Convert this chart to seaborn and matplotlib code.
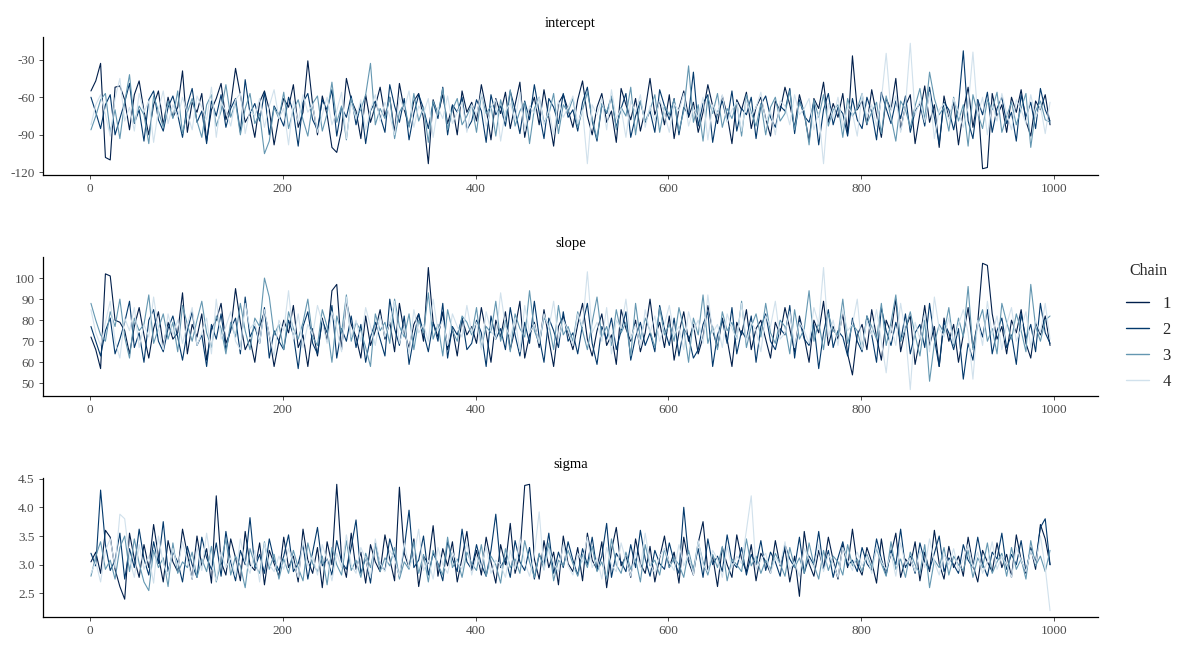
import numpy as np
import pandas as pd
import matplotlib
matplotlib.use("Agg")
import matplotlib.pyplot as plt
import seaborn as sns
from matplotlib.ticker import FormatStrFormatter

# ---------------- data (every 5th draw) ----------------
params = ["intercept", "slope", "sigma"]
chains = ["1", "2", "3", "4"]
chain_colors = ["#011f4b", "#03396c", "#6497b1", "#d1e1ec"]
iterations = np.arange(1, 1001, 5)
intercept_ticks = [-120, -90, -60, -30]
slope_ticks = [50, 60, 70, 80, 90, 100]
sigma_ticks = [2.5, 3.0, 3.5, 4.0, 4.5]
iteration_ticks = [0, 200, 400, 600, 800, 1000]

intercept_c1 = [
    -55, -47, -33, -108, -110, -52, -51, -62, -86, -58, -47, -71, -90, -66, -55, -82, -60, -76, -68, -39,
    -88, -64, -72, -57, -95, -70, -61, -49, -78, -66, -37, -58, -80, -73, -92, -64, -55, -70, -98, -76,
    -61, -68, -50, -84, -72, -31, -66, -90, -59, -74, -100, -104, -86, -45, -62, -71, -93, -58, -80, -67,
    -52, -75, -60, -88, -49, -70, -83, -63, -57, -77, -113, -62, -74, -58, -81, -67, -90, -55, -72, -64,
    -79, -50, -69, -94, -61, -73, -56, -85, -66, -48, -92, -71, -60, -82, -54, -76, -99, -65, -58, -70,
    -84, -62, -47, -75, -90, -68, -57, -80, -71, -96, -53, -66, -78, -61, -87, -70, -45, -74, -63, -82,
    -58, -93, -69, -55, -76, -64, -88, -72, -50, -67, -81, -59, -74, -97, -62, -70, -56, -85, -68, -60,
    -77, -91, -63, -71, -52, -66, -84, -58, -73, -95, -61, -69, -48, -80, -65, -76, -57, -89, -27, -70,
    -63, -82, -54, -74, -92, -61, -70, -45, -86, -67, -58, -97, -73, -51, -80, -66, -100, -59, -77, -64,
    -98, -71, -52, -84, -62, -117, -116, -57, -75, -66, -88, -60, -72, -54, -79, -91, -63, -70, -58, -82]
intercept_c2 = [
    -60, -72, -85, -66, -58, -90, -77, -64, -49, -81, -70, -95, -62, -55, -78, -87, -68, -59, -74, -92,
    -66, -53, -80, -71, -97, -63, -75, -58, -84, -69, -61, -88, -46, -73, -65, -79, -56, -90, -67, -74,
    -83, -60, -72, -99, -64, -57, -78, -86, -62, -70, -54, -91, -68, -76, -59, -82, -65, -97, -71, -63,
    -75, -88, -50, -67, -80, -61, -94, -73, -58, -69, -85, -64, -77, -52, -90, -66, -72, -60, -86, -79,
    -62, -71, -96, -58, -74, -67, -83, -55, -70, -89, -63, -78, -50, -72, -93, -61, -68, -81, -57, -76,
    -70, -87, -64, -52, -79, -95, -66, -73, -60, -84, -69, -57, -92, -75, -63, -80, -71, -88, -54, -67,
    -78, -61, -90, -68, -74, -40, -83, -65, -58, -96, -72, -63, -79, -55, -87, -69, -74, -60, -93, -66,
    -59, -76, -84, -67, -71, -53, -89, -62, -75, -80, -64, -98, -70, -57, -82, -68, -73, -91, -61, -78,
    -85, -60, -72, -94, -56, -69, -81, -63, -77, -59, -88, -71, -65, -83, -52, -76, -97, -64, -70, -86,
    -67, -23, -79, -93, -62, -74, -56, -88, -69, -60, -81, -72, -95, -58, -76, -64, -85, -53, -70, -79]
intercept_c3 = [
    -86, -75, -62, -57, -88, -70, -93, -64, -42, -80, -67, -74, -97, -59, -71, -84, -63, -77, -55, -89,
    -72, -61, -79, -92, -66, -58, -83, -71, -50, -76, -64, -90, -69, -57, -81, -73, -105, -95, -68, -77,
    -56, -85, -70, -62, -78, -91, -65, -59, -87, -73, -48, -80, -67, -94, -61, -75, -70, -58, -33, -82,
    -69, -77, -60, -93, -72, -65, -84, -57, -79, -68, -96, -63, -74, -53, -86, -70, -61, -82, -75, -66,
    -88, -58, -73, -67, -91, -62, -78, -54, -83, -71, -64, -97, -69, -60, -80, -74, -57, -89, -66, -72,
    -61, -84, -70, -56, -77, -93, -65, -72, -59, -86, -68, -75, -52, -90, -63, -79, -70, -58, -88, -67,
    -74, -62, -87, -71, -35, -80, -66, -95, -60, -73, -57, -84, -69, -77, -64, -91, -58, -72, -83, -65,
    -90, -68, -60, -79, -73, -55, -86, -64, -71, -98, -62, -76, -58, -83, -70, -66, -92, -61, -75, -69,
    -57, -81, -72, -64, -89, -59, -76, -95, -63, -70, -84, -67, -53, -78, -40, -61, -74, -68, -87, -60,
    -79, -66, -99, -58, -73, -85, -62, -70, -56, -88, -75, -64, -82, -69, -57, -100, -71, -63, -78, -80]
intercept_c4 = [
    -82, -66, -58, -74, -91, -61, -45, -79, -68, -87, -57, -72, -63, -96, -70, -55, -81, -66, -76, -60,
    -73, -86, -59, -68, -78, -52, -92, -64, -71, -83, -62, -57, -89, -70, -75, -61, -84, -67, -54, -77,
    -69, -98, -63, -80, -58, -72, -66, -88, -74, -60, -82, -71, -56, -93, -65, -77, -62, -86, -70, -58,
    -79, -64, -75, -90, -60, -70, -55, -84, -67, -73, -61, -92, -68, -77, -59, -81, -72, -64, -88, -66,
    -74, -57, -83, -69, -62, -95, -71, -65, -78, -56, -87, -67, -73, -60, -82, -70, -90, -63, -76, -68,
    -59, -81, -70, -113, -66, -74, -61, -86, -54, -77, -69, -92, -63, -72, -58, -84, -67, -79, -62, -73,
    -88, -65, -71, -57, -83, -69, -76, -60, -94, -66, -73, -58, -80, -70, -64, -87, -62, -75, -68, -56,
    -79, -71, -90, -63, -67, -82, -58, -74, -69, -61, -86, -72, -113, -65, -77, -60, -84, -68, -73, -91,
    -57, -76, -66, -83, -62, -25, -71, -59, -88, -67, -17, -74, -63, -80, -56, -93, -70, -65, -78, -61,
    -72, -84, -68, -24, -75, -60, -90, -66, -79, -57, -73, -86, -62, -70, -81, -58, -76, -67, -89, -64]

slope_c1 = [
    72, 66, 57, 102, 101, 80, 79, 75, 64, 77, 86, 73, 62, 76, 84, 68, 79, 71, 74, 93,
    64, 78, 72, 83, 61, 76, 80, 88, 69, 75, 95, 79, 66, 71, 60, 77, 84, 73, 58, 70,
    80, 74, 87, 67, 73, 58, 76, 63, 81, 70, 94, 97, 66, 89, 78, 72, 62, 82, 68, 75,
    85, 71, 79, 65, 88, 74, 67, 78, 83, 70, 105, 79, 72, 84, 66, 76, 63, 81, 73, 77,
    69, 86, 74, 60, 80, 72, 84, 66, 76, 89, 62, 73, 79, 67, 85, 71, 58, 77, 82, 74,
    66, 78, 88, 71, 63, 75, 83, 68, 73, 59, 85, 76, 70, 80, 65, 74, 90, 72, 79, 67,
    82, 61, 74, 84, 70, 78, 64, 72, 87, 75, 67, 81, 71, 58, 79, 73, 85, 66, 76, 80,
    71, 62, 79, 73, 86, 76, 65, 82, 72, 60, 80, 74, 89, 68, 77, 71, 83, 64, 54, 73,
    78, 66, 85, 72, 61, 80, 74, 90, 65, 76, 82, 59, 71, 87, 68, 77, 58, 81, 70, 78,
    60, 73, 86, 67, 79, 107, 106, 83, 71, 77, 64, 80, 74, 85, 69, 62, 79, 73, 82, 68]
slope_c2 = [
    77, 70, 63, 75, 81, 64, 71, 79, 89, 67, 74, 60, 80, 85, 70, 65, 76, 82, 72, 61,
    75, 84, 68, 73, 58, 78, 71, 83, 66, 76, 81, 64, 91, 72, 77, 69, 86, 62, 75, 70,
    66, 80, 73, 57, 77, 84, 69, 64, 80, 74, 87, 62, 76, 70, 82, 67, 78, 60, 72, 79,
    71, 63, 90, 76, 68, 82, 59, 72, 83, 74, 65, 79, 70, 88, 62, 77, 73, 81, 66, 69,
    80, 74, 58, 82, 71, 76, 66, 86, 73, 63, 79, 69, 89, 72, 60, 81, 75, 67, 84, 70,
    74, 64, 78, 88, 69, 59, 77, 71, 81, 66, 75, 84, 61, 72, 79, 68, 74, 65, 87, 76,
    68, 81, 63, 76, 72, 62, 66, 78, 84, 58, 73, 80, 69, 86, 64, 75, 71, 82, 60, 77,
    83, 70, 66, 76, 73, 87, 62, 80, 71, 68, 78, 57, 74, 85, 67, 75, 72, 63, 81, 70,
    65, 82, 73, 60, 86, 75, 68, 79, 70, 83, 64, 74, 78, 67, 88, 71, 58, 79, 74, 66,
    76, 52, 69, 61, 80, 72, 85, 64, 75, 81, 67, 73, 59, 83, 71, 78, 65, 88, 74, 69]
slope_c3 = [
    88, 80, 73, 70, 84, 77, 90, 72, 62, 81, 75, 78, 92, 69, 76, 83, 71, 79, 65, 87,
    78, 70, 80, 89, 74, 67, 82, 76, 64, 79, 72, 88, 75, 66, 81, 77, 100, 91, 73, 78,
    66, 84, 76, 71, 79, 90, 72, 68, 85, 77, 60, 82, 74, 92, 70, 79, 75, 67, 58, 83,
    75, 79, 69, 90, 77, 72, 83, 66, 80, 74, 93, 71, 78, 63, 85, 75, 70, 82, 79, 73,
    86, 67, 77, 74, 89, 70, 80, 65, 83, 76, 72, 94, 75, 69, 81, 78, 66, 87, 73, 77,
    70, 84, 75, 66, 79, 91, 72, 77, 68, 85, 74, 79, 63, 88, 71, 81, 75, 67, 86, 73,
    78, 70, 86, 76, 60, 81, 73, 92, 69, 77, 66, 84, 75, 79, 71, 89, 67, 77, 83, 72,
    88, 74, 69, 80, 77, 64, 85, 71, 76, 94, 70, 79, 66, 83, 75, 73, 90, 69, 78, 75,
    66, 82, 77, 71, 88, 68, 79, 92, 70, 76, 84, 73, 63, 80, 51, 69, 78, 74, 86, 68,
    81, 72, 96, 66, 78, 85, 70, 76, 64, 88, 79, 71, 83, 75, 65, 97, 77, 70, 80, 82]
slope_c4 = [
    85, 74, 68, 79, 89, 70, 62, 81, 75, 86, 67, 78, 72, 91, 76, 66, 83, 73, 80, 69,
    78, 86, 68, 74, 81, 64, 90, 71, 77, 84, 70, 66, 88, 76, 79, 69, 85, 73, 63, 80,
    75, 94, 71, 83, 67, 78, 73, 87, 79, 69, 84, 76, 65, 91, 72, 80, 70, 86, 77, 68,
    82, 72, 79, 89, 69, 77, 64, 85, 74, 78, 70, 90, 75, 80, 68, 83, 77, 72, 87, 74,
    79, 66, 84, 75, 71, 93, 77, 72, 81, 65, 87, 74, 78, 69, 83, 76, 89, 71, 80, 75,
    68, 83, 77, 103, 74, 79, 70, 86, 64, 80, 76, 90, 71, 78, 67, 85, 74, 82, 70, 78,
    87, 73, 77, 66, 84, 75, 80, 69, 92, 74, 78, 67, 83, 76, 71, 88, 70, 79, 75, 65,
    82, 77, 89, 71, 74, 84, 67, 79, 75, 69, 86, 78, 105, 72, 80, 68, 85, 75, 78, 90,
    66, 80, 73, 85, 70, 55, 77, 68, 88, 74, 47, 79, 71, 83, 65, 91, 76, 72, 81, 69,
    78, 85, 74, 52, 80, 68, 89, 73, 82, 66, 78, 86, 70, 76, 84, 67, 80, 74, 88, 71]

sigma_c1 = [
    3.05, 3.22, 2.85, 3.60, 3.48, 2.92, 2.62, 2.40, 3.55, 3.10, 2.78, 3.35, 2.95, 3.70, 3.15, 2.70, 3.42, 3.05, 2.88, 3.62,
    3.18, 2.75, 3.50, 2.98, 3.28, 2.68, 4.20, 3.05, 2.82, 3.45, 3.12, 2.72, 3.58, 3.00, 2.90, 3.38, 2.65, 3.25, 3.02, 2.80,
    3.48, 2.95, 3.15, 2.70, 3.62, 3.08, 2.85, 3.30, 2.60, 3.40, 3.00, 4.40, 3.12, 2.78, 3.55, 2.92, 3.22, 2.68, 3.35, 3.05,
    2.88, 3.52, 3.10, 2.72, 4.35, 3.20, 2.95, 3.45, 2.62, 3.15, 3.02, 3.68, 2.80, 3.28, 2.98, 3.40, 2.70, 3.12, 3.58, 2.90,
    3.25, 2.82, 3.48, 3.05, 2.68, 3.35, 3.00, 3.72, 2.85, 3.18, 4.38, 4.40, 3.10, 2.75, 3.42, 2.95, 3.22, 2.65, 3.50, 3.02,
    2.88, 3.30, 2.72, 3.55, 3.08, 2.92, 3.40, 2.60, 3.25, 3.65, 2.98, 3.15, 2.78, 3.45, 3.02, 2.85, 3.32, 2.70, 3.12, 3.50,
    2.95, 3.22, 2.68, 3.48, 3.05, 2.82, 3.38, 3.75, 2.90, 3.15, 2.62, 3.30, 3.00, 2.78, 3.52, 3.10, 2.88, 3.35, 2.72, 3.20,
    3.05, 2.85, 3.42, 2.98, 3.28, 2.70, 3.15, 2.45, 3.58, 3.02, 2.80, 3.25, 2.92, 3.48, 3.08, 2.75, 3.35, 2.95, 3.62, 3.00,
    2.82, 3.30, 3.05, 2.68, 3.45, 2.90, 3.18, 3.55, 2.78, 3.10, 2.98, 3.40, 2.72, 3.22, 2.88, 3.60, 3.02, 2.75, 3.32, 2.95,
    3.15, 2.80, 3.48, 3.00, 2.70, 3.25, 3.05, 2.88, 3.38, 2.95, 3.18, 2.78, 3.52, 3.08, 2.85, 3.30, 2.92, 3.70, 3.45, 3.00]
sigma_c2 = [
    3.20, 2.98, 4.30, 3.35, 2.90, 3.08, 3.55, 2.75, 3.28, 2.95, 3.62, 3.10, 2.82, 3.40, 3.02, 3.75, 2.88, 3.22, 3.05, 2.70,
    3.32, 3.00, 2.78, 3.48, 3.12, 2.92, 3.38, 2.80, 3.58, 3.05, 2.72, 3.25, 3.00, 3.82, 2.95, 3.18, 2.85, 3.45, 3.08, 2.90,
    3.15, 3.52, 2.88, 3.02, 3.35, 2.75, 3.22, 3.65, 2.98, 3.10, 2.82, 3.42, 3.05, 2.92, 3.30, 3.78, 2.85, 3.12, 2.68, 3.38,
    3.00, 2.90, 3.45, 3.15, 2.78, 3.28, 3.95, 2.95, 3.08, 3.50, 2.82, 3.20, 3.02, 2.72, 3.40, 3.10, 2.88, 3.62, 3.05, 2.92,
    3.35, 3.00, 2.80, 3.25, 3.88, 2.95, 3.12, 2.78, 3.42, 3.05, 2.90, 3.30, 2.75, 3.18, 3.00, 3.55, 2.85, 3.22, 2.95, 3.40,
    3.08, 2.82, 3.28, 3.00, 3.48, 2.90, 3.15, 3.72, 2.78, 3.20, 3.05, 2.88, 3.35, 2.95, 3.60, 3.10, 2.80, 3.25, 3.02, 2.92,
    3.38, 3.05, 2.85, 4.00, 3.12, 2.92, 3.28, 2.78, 3.45, 3.00, 3.15, 2.88, 3.52, 3.05, 2.95, 3.30, 2.82, 3.18, 3.00, 3.42,
    2.90, 3.22, 3.05, 2.80, 3.35, 3.10, 2.95, 3.48, 2.85, 3.15, 3.00, 3.58, 2.92, 3.25, 2.78, 3.12, 3.40, 2.98, 3.08, 2.88,
    3.30, 3.02, 2.90, 3.45, 3.10, 2.82, 3.25, 3.00, 3.62, 2.95, 3.15, 2.85, 3.38, 3.05, 2.92, 3.20, 3.50, 2.88, 3.12, 3.00,
    2.85, 3.35, 3.08, 2.95, 3.48, 3.02, 2.80, 3.22, 3.10, 3.55, 2.92, 3.18, 3.00, 3.42, 2.88, 3.28, 3.05, 3.65, 3.80, 3.00]
sigma_c3 = [
    2.80, 3.15, 3.40, 2.92, 3.08, 2.75, 3.30, 3.50, 2.88, 3.45, 3.02, 2.70, 2.55, 3.25, 2.95, 3.12, 2.62, 3.38, 2.85, 3.05,
    2.95, 3.22, 2.78, 3.10, 2.88, 3.32, 2.70, 3.05, 3.45, 2.82, 3.15, 2.98, 2.60, 3.28, 3.00, 2.85, 3.40, 2.92, 3.18, 2.75,
    3.10, 2.85, 3.25, 2.95, 2.72, 3.38, 3.02, 2.88, 3.15, 2.65, 3.30, 3.00, 2.82, 3.42, 2.90, 3.08, 2.78, 3.20, 2.95, 3.35,
    2.88, 3.12, 2.98, 3.30, 2.75, 3.05, 2.92, 3.40, 2.85, 3.18, 2.70, 3.25, 3.00, 2.82, 3.48, 2.95, 3.10, 2.78, 3.22, 3.02,
    2.90, 3.35, 2.80, 3.15, 3.00, 2.68, 3.28, 2.95, 3.10, 2.85, 3.42, 3.05, 2.78, 3.20, 2.92, 3.38, 2.72, 3.08, 2.98, 3.25,
    3.02, 2.80, 3.18, 2.95, 3.32, 2.88, 3.05, 2.75, 3.45, 3.00, 2.85, 3.22, 2.92, 3.10, 2.70, 3.35, 2.98, 3.08, 2.82, 3.28,
    2.95, 3.12, 3.00, 2.78, 3.25, 2.90, 3.40, 3.05, 2.82, 3.18, 2.95, 3.32, 2.72, 3.10, 3.00, 2.88, 3.45, 2.98, 3.15, 2.85,
    3.08, 2.92, 3.20, 3.02, 2.80, 3.30, 2.95, 3.12, 2.85, 3.38, 3.00, 2.75, 3.25, 2.90, 3.15, 3.05, 2.82, 3.35, 2.98, 3.10,
    2.88, 3.18, 2.95, 3.28, 3.02, 2.80, 3.40, 2.92, 3.10, 2.78, 3.22, 3.00, 2.85, 3.35, 2.60, 3.08, 2.95, 3.30, 2.82, 3.15,
    3.00, 2.90, 3.25, 2.78, 3.12, 2.95, 3.38, 2.85, 3.05, 3.20, 2.80, 3.30, 2.92, 3.10, 2.75, 3.42, 2.98, 3.15, 2.88, 3.25]
sigma_c4 = [
    2.85, 3.05, 2.70, 3.25, 3.45, 2.95, 3.88, 3.80, 3.10, 2.78, 3.35, 2.92, 3.15, 2.68, 3.50, 3.02, 2.82, 3.28, 2.95, 3.40,
    3.08, 2.75, 3.30, 2.90, 3.55, 3.00, 2.72, 3.22, 2.95, 3.12, 2.80, 3.45, 3.05, 2.85, 3.25, 2.70, 3.38, 3.00, 2.88, 3.15,
    2.92, 3.28, 3.05, 2.78, 3.42, 2.98, 3.15, 2.82, 3.35, 3.08, 2.72, 3.20, 2.95, 3.52, 3.00, 2.85, 3.30, 3.10, 2.78, 3.45,
    3.02, 2.88, 3.25, 3.10, 2.80, 3.38, 2.95, 3.15, 3.62, 2.90, 3.08, 2.75, 3.30, 3.00, 2.85, 3.22, 3.05, 2.92, 3.40, 2.82,
    3.15, 2.95, 3.32, 2.85, 3.08, 3.00, 2.78, 3.25, 2.92, 3.45, 3.05, 2.80, 3.18, 3.92, 2.90, 3.28, 3.02, 2.88, 3.35, 2.98,
    2.82, 3.20, 3.05, 3.48, 2.95, 3.12, 2.75, 3.30, 3.00, 2.88, 3.38, 3.08, 2.80, 3.22, 2.95, 3.55, 3.02, 2.85, 3.15, 3.28,
    3.05, 2.90, 3.35, 2.98, 3.18, 2.82, 3.42, 3.00, 2.88, 3.25, 3.10, 2.78, 3.32, 2.95, 3.15, 3.02, 3.60, 4.20, 2.92, 3.08,
    3.20, 2.85, 3.12, 3.00, 3.40, 2.92, 3.05, 2.80, 3.28, 3.10, 2.95, 3.35, 2.88, 3.18, 3.02, 2.78, 3.30, 3.08, 2.90, 3.22,
    2.98, 3.15, 2.85, 3.32, 3.05, 2.92, 3.20, 2.80, 3.38, 3.00, 3.12, 2.88, 3.25, 2.95, 3.45, 3.05, 2.82, 3.18, 3.00, 3.28,
    2.90, 3.10, 3.35, 2.95, 3.22, 2.85, 3.05, 3.40, 2.92, 3.15, 3.00, 2.78, 3.30, 3.08, 2.88, 3.25, 3.02, 3.50, 2.95, 2.20]

series = {
    "intercept": [intercept_c1, intercept_c2, intercept_c3, intercept_c4],
    "slope": [slope_c1, slope_c2, slope_c3, slope_c4],
    "sigma": [sigma_c1, sigma_c2, sigma_c3, sigma_c4],
}
yticks = {"intercept": intercept_ticks, "slope": slope_ticks, "sigma": sigma_ticks}

rows = []
for p in params:
    for ch, vals in zip(chains, series[p]):
        for it, v in zip(iterations, vals):
            rows.append((p, ch, it, v))
df = pd.DataFrame(rows, columns=["parameter", "Chain", "iteration", "value"])

# ---------------- style ----------------
sns.set_style("ticks")
plt.rcParams["font.family"] = ["Liberation Serif", "DejaVu Serif"]
plt.rcParams["axes.unicode_minus"] = False

fig = plt.figure(figsize=(11.88, 6.48), dpi=100)
W, H = 1188, 648
boxes = [(43, 37, 1098, 175), (43, 257, 1098, 396), (43, 478, 1098, 617)]
palette = dict(zip(chains, chain_colors))

axes = []
for i, (p, (x0, y0, x1, y1)) in enumerate(zip(params, boxes)):
    ax = fig.add_axes([x0 / W, 1 - y1 / H, (x1 - x0) / W, (y1 - y0) / H])
    sns.lineplot(data=df[df["parameter"] == p], x="iteration", y="value",
                 hue="Chain", hue_order=chains, palette=palette,
                 estimator=None, sort=False, linewidth=0.8,
                 legend=(i == 1), ax=ax)
    ax.set_xlabel("")
    ax.set_ylabel("")
    ax.set_title(p, fontsize=10.5, pad=7, color="black")
    sns.despine(ax=ax)
    for s in ("left", "bottom"):
        ax.spines[s].set_linewidth(0.9)
        ax.spines[s].set_color("black")
    ax.tick_params(labelsize=9.5, labelcolor="#4d4d4d", color="#333333",
                   length=3, width=0.6, pad=3)
    ax.set_xticks(iteration_ticks)
    ax.set_yticks(yticks[p])
    axes.append(ax)

axes[2].yaxis.set_major_formatter(FormatStrFormatter("%.1f"))

sns.move_legend(axes[1], "center left", bbox_to_anchor=(1.012, 0.5),
                title="Chain", frameon=False, fontsize=12, title_fontsize=11.5,
                handlelength=1.4, labelspacing=0.6, handletextpad=0.8)
leg = axes[1].get_legend()
leg._legend_box.sep = 12
for line in leg.get_lines():
    line.set_linewidth(1.0)

fig.savefig("out.png", dpi=100)
